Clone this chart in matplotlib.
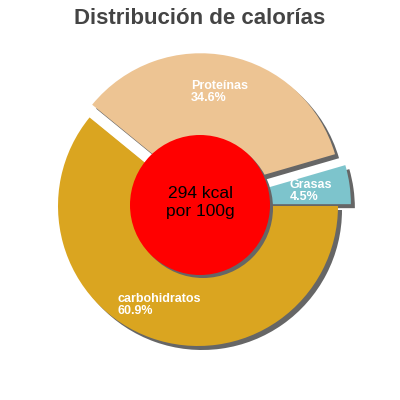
import matplotlib.pyplot as plt
from matplotlib.patches import Circle

# datos
etiquetas = ['Grasas', 'Proteínas', 'carbohidratos']
porcentajes = [4.5, 34.6, 60.9]
colores = ['#7DC4CC', '#EDC493', '#DAA520']
separacion = [13, 13, 0]  # en pixeles
kcal_texto = '294 kcal\npor 100g'

plt.rcParams['font.family'] = ['Liberation Sans', 'DejaVu Sans']

fig = plt.figure(figsize=(4, 4), dpi=100)
ax = fig.add_axes([0, 0, 1, 1])

cx, cy, r = 198, 194, 140
sombra = 4

# sombra
ax.pie(porcentajes, explode=separacion, colors=['#666666'] * 3, startangle=0,
       radius=r, center=(cx + sombra, cy - sombra), frame=True,
       wedgeprops=dict(linewidth=0))
# porciones
ax.pie(porcentajes, explode=separacion, colors=colores, startangle=0,
       radius=r, center=(cx, cy), frame=True,
       wedgeprops=dict(linewidth=0))
ax.set_xlim(0, 400)
ax.set_ylim(0, 400)
ax.set_aspect('equal')
ax.axis('off')

# circulo central
ax.add_patch(Circle((200 + 3, 195 - 3), 70, color='#666666', lw=0, zorder=5))
ax.add_patch(Circle((200, 195), 70, color='#FF0000', lw=0, zorder=6))
ax.text(200, 197.5, kcal_texto, ha='center', va='center', fontsize=12.5,
        color='black', zorder=7, linespacing=1.2)

# etiquetas
pos_etiquetas = [(290, 209), (191, 308), (118, 95)]
for nombre, pct, (x, y) in zip(etiquetas, porcentajes, pos_etiquetas):
    ax.text(x, y, f'{nombre}\n{pct}%', ha='left', va='center', fontsize=9,
            fontweight='bold', color='white', zorder=4, linespacing=0.95)

fig.text(0.5, 0.953, 'Distribución de calorías', ha='center', va='center',
         fontsize=16, fontweight='bold', color='#444444')

fig.savefig('out.png', dpi=100)
